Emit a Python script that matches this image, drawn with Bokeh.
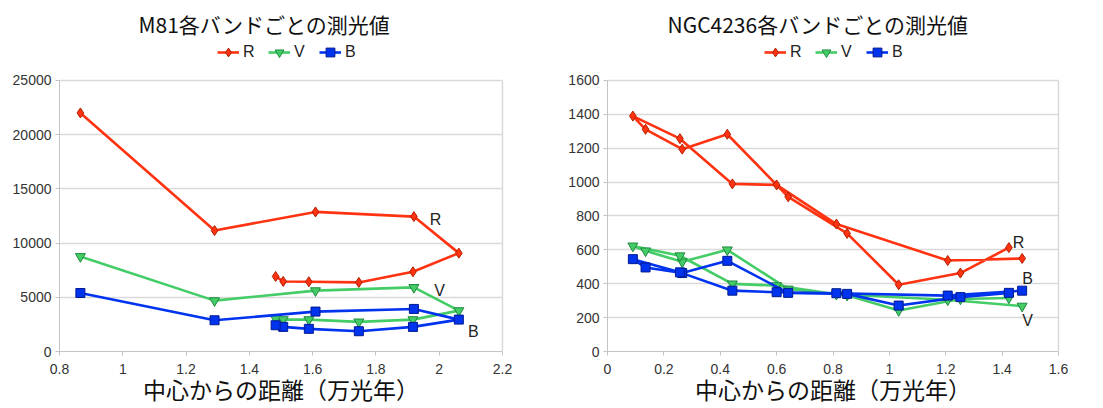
from bokeh.plotting import figure
from bokeh.models import (Legend, LegendItem, Label, NumeralTickFormatter,
                          FixedTicker, Range1d, LinearAxis)
from bokeh.layouts import row
from bokeh.embed import file_html
from bokeh.resources import INLINE

# ---------------- data ----------------
band_labels = ["R", "V", "B"]

m81_title = "M81各バンドごとの測光値"
m81_x = [0.866, 1.29, 1.609, 1.92, 2.062, 1.917, 1.746, 1.588, 1.507, 1.483]
m81_r = [22000, 11150, 12870, 12440, 9070, 7350, 6370, 6430, 6460, 6920]
m81_v = [8760, 4690, 5610, 5910, 3770, 2940, 2730, 2940, 2940, 3030]
m81_b = [5395, 2880, 3680, 3925, 2940, 2270, 1870, 2090, 2270, 2420]
m81_xticks = [0.8, 1.0, 1.2, 1.4, 1.6, 1.8, 2.0, 2.2]
m81_yticks = [0, 5000, 10000, 15000, 20000, 25000]
m81_tag_x = [1.988, 2.001, 2.108]
m81_tag_y = [12130, 5630, 1870]

ngc_title = "NGC4236各バンドごとの測光値"
ngc_x = [1.424, 1.252, 1.033, 0.850, 0.641, 0.425, 0.265, 0.135, 0.090,
         0.257, 0.443, 0.600, 0.812, 1.207, 1.471]
ngc_r = [613, 463, 394, 697, 913, 1282, 1194, 1311, 1389, 1256, 989, 983, 752, 537, 549]
ngc_v = [316, 310, 242, 332, 369, 600, 529, 594, 623, 565, 399, 389, 338, 305, 268]
ngc_b = [346, 321, 271, 340, 346, 535, 463, 496, 545, 467, 359, 350, 344, 330, 359]
ngc_xticks = [0, 0.2, 0.4, 0.6, 0.8, 1.0, 1.2, 1.4, 1.6]
ngc_yticks = [0, 200, 400, 600, 800, 1000, 1200, 1400, 1600]
ngc_tag_x = [1.458, 1.49, 1.49]
ngc_tag_y = [645, 183, 428]

x_label = "中心からの距離（万光年）"

# ---------------- style / layout ----------------
COLORS = {"R": "#ff3311", "V": "#44cc66", "B": "#0033ee"}
EDGES = {"R": "#b02000", "V": "#208a40", "B": "#001a90"}
MARKERS = {"R": "diamond", "V": "inverted_triangle", "B": "square"}
SIZES = {"R": 10, "V": 10, "B": 9}
CJK = "Noto Sans CJK JP"
LAT = "Liberation Sans"
GRID = "#d9d9d9"
AXIS = "#c4c4c4"

FIG_H = 408
FRAME_TOP = 38        # frame (incl. legend strip) starts here
DATA_TOP = 80         # pixel row of the top tick value
DATA_BOTTOM = 352     # pixel row of the x axis
LEGEND_BOTTOM = 64    # pixel row of the legend's lower edge


def make_fig(title, xs, series, xticks, yticks, tags_x, tags_y,
             width, bl, br, title_offset, legend_x):
    ymax = yticks[-1]
    y_end = ymax * (DATA_BOTTOM - FRAME_TOP) / (DATA_BOTTOM - DATA_TOP)
    p = figure(width=width, height=FIG_H, output_backend="svg",
               toolbar_location=None,
               x_range=Range1d(xticks[0], xticks[-1]),
               y_range=Range1d(yticks[0], y_end),
               min_border_left=bl, min_border_right=br,
               min_border_top=FRAME_TOP,
               min_border_bottom=FIG_H - DATA_BOTTOM)
    p.title.text = title
    p.title.text_font = CJK
    p.title.text_font_size = "21px"
    p.title.text_font_style = "normal"
    p.title.text_color = "#111111"
    p.title.align = "left"
    p.title.offset = title_offset
    p.title.standoff = 0

    p.outline_line_color = None
    p.xgrid.grid_line_color = None
    p.ygrid.grid_line_color = GRID
    p.ygrid.grid_line_width = 1.5
    p.xaxis.ticker = FixedTicker(ticks=xticks)
    p.yaxis.ticker = FixedTicker(ticks=yticks)
    p.yaxis.bounds = (yticks[0], ymax)
    p.xaxis.formatter = NumeralTickFormatter(format="0.[0]")
    p.yaxis.formatter = NumeralTickFormatter(format="0")
    for ax in (p.xaxis, p.yaxis):
        ax.axis_line_color = AXIS
        ax.major_tick_line_color = AXIS
        ax.major_tick_out = 4
        ax.major_tick_in = 0
        ax.minor_tick_line_color = None
        ax.major_label_text_font = LAT
        ax.major_label_text_font_size = "14px"
        ax.major_label_text_color = "#333333"
        ax.major_label_standoff = 4
    p.xaxis.major_label_standoff = 8
    p.xaxis.axis_label = x_label
    p.xaxis.axis_label_text_font = CJK
    p.xaxis.axis_label_text_font_size = "23px"
    p.xaxis.axis_label_text_font_style = "normal"
    p.xaxis.axis_label_text_color = "#111111"
    p.xaxis.axis_label_standoff = -5

    # right-hand border of the plotting area (line only)
    rax = LinearAxis(bounds=(yticks[0], ymax), axis_line_color=GRID,
                     axis_line_width=1.5,
                     ticker=FixedTicker(ticks=[]), major_tick_line_color=None,
                     minor_tick_line_color=None,
                     major_label_text_font_size="0px")
    p.add_layout(rax, "right")

    items = []
    for name, ys in zip(band_labels, series):
        ln = p.line(xs, ys, line_color=COLORS[name], line_width=2.6)
        sc = p.scatter(xs, ys, marker=MARKERS[name], size=SIZES[name],
                       fill_color=COLORS[name], line_color=EDGES[name],
                       line_width=1)
        items.append(LegendItem(label=name, renderers=[ln, sc]))

    legend = Legend(items=items, orientation="horizontal",
                    location=(legend_x, DATA_BOTTOM - LEGEND_BOTTOM),
                    padding=0, margin=0,
                    spacing=5, glyph_width=22, glyph_height=22,
                    label_standoff=4, border_line_color=None,
                    background_fill_alpha=0,
                    label_text_font=LAT, label_text_font_size="16px",
                    label_text_color="#222222")
    p.add_layout(legend, "center")

    for t, tx, ty in zip(band_labels, tags_x, tags_y):
        p.add_layout(Label(x=tx, y=ty, text=t, text_font=LAT,
                           text_font_size="16px", text_color="#222222",
                           text_align="center", text_baseline="middle"))
    return p


p1 = make_fig(m81_title, m81_x, [m81_r, m81_v, m81_b], m81_xticks, m81_yticks,
              m81_tag_x, m81_tag_y, 550, 59, 48, 79, 158)
p2 = make_fig(ngc_title, ngc_x, [ngc_r, ngc_v, ngc_b], ngc_xticks, ngc_yticks,
              ngc_tag_x, ngc_tag_y, 553, 57, 45, 60, 157)

layout = row(p1, p2)
open("out.html", "w").write(file_html(layout, INLINE))
